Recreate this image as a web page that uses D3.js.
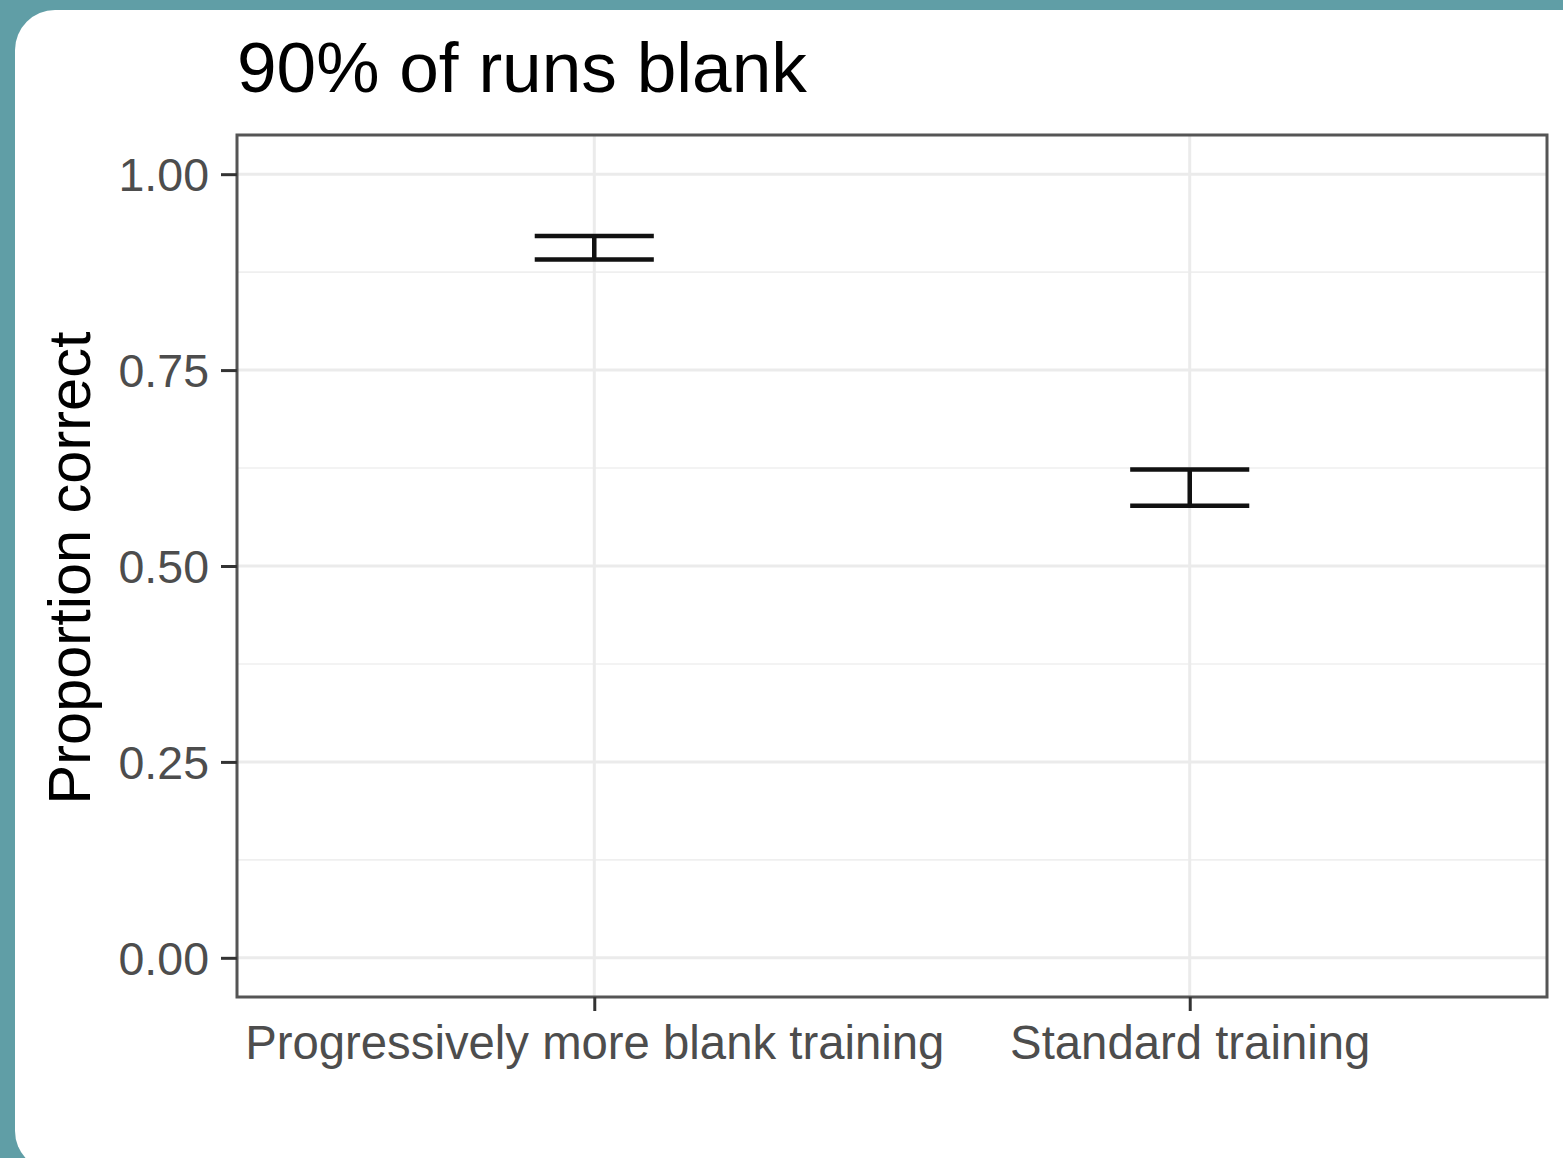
<!DOCTYPE html>
<html>
<head>
<meta charset="utf-8">
<script src="https://cdn.jsdelivr.net/npm/d3@7"></script>
<style>
  html, body { margin: 0; padding: 0; background: #609ea6; }
  svg { display: block; }
  text { font-family: "Liberation Sans", Arial, sans-serif; }
</style>
</head>
<body>
<script>
// Groups on the x axis
const categories = ["Progressively more blank training", "Standard training"];
// Error bar bounds for each group
const lowerValues = [0.891, 0.577];
const upperValues = [0.921, 0.623];
// Y axis ticks
const yTicks = [0, 0.25, 0.5, 0.75, 1.0];
const yTickLabels = ["0.00", "0.25", "0.50", "0.75", "1.00"];
const yMinorTicks = [0.125, 0.375, 0.625, 0.875];

const W = 1563, H = 1158;
const panel = { left: 237, top: 135, right: 1547, bottom: 997 };

const svg = d3.select("body").append("svg").attr("width", W).attr("height", H);

// teal frame with a white rounded card
svg.append("rect").attr("width", W).attr("height", H).attr("fill", "#609ea6");
svg.append("rect").attr("x", 15).attr("y", 10).attr("width", 1650).attr("height", 1161)
  .attr("rx", 40).attr("fill", "#ffffff");

const y = d3.scaleLinear().domain([-0.05, 1.05]).range([panel.bottom, panel.top]);
const xIdx = d3.scaleLinear().domain([0.4, categories.length + 0.6]).range([panel.left, panel.right]);
const x = d => xIdx(categories.indexOf(d) + 1);
const unit = xIdx(1) - xIdx(0);

const grid = svg.append("g");
grid.selectAll("line.minor").data(yMinorTicks).join("line")
  .attr("x1", panel.left).attr("x2", panel.right)
  .attr("y1", d => y(d)).attr("y2", d => y(d))
  .attr("stroke", "#efefef").attr("stroke-width", 1.6);
grid.selectAll("line.major").data(yTicks).join("line")
  .attr("x1", panel.left).attr("x2", panel.right)
  .attr("y1", d => y(d)).attr("y2", d => y(d))
  .attr("stroke", "#ebebeb").attr("stroke-width", 3);
grid.selectAll("line.vmajor").data(categories).join("line")
  .attr("x1", d => x(d)).attr("x2", d => x(d))
  .attr("y1", panel.top).attr("y2", panel.bottom)
  .attr("stroke", "#ebebeb").attr("stroke-width", 3);

// error bars
const bars = svg.append("g").attr("stroke", "#111").attr("stroke-width", 4.5).attr("fill", "none");
const halfW = 0.1 * unit;
categories.forEach((c, i) => {
  const cx = x(c);
  bars.append("line").attr("x1", cx).attr("x2", cx).attr("y1", y(lowerValues[i])).attr("y2", y(upperValues[i]));
  bars.append("line").attr("x1", cx - halfW).attr("x2", cx + halfW).attr("y1", y(lowerValues[i])).attr("y2", y(lowerValues[i]));
  bars.append("line").attr("x1", cx - halfW).attr("x2", cx + halfW).attr("y1", y(upperValues[i])).attr("y2", y(upperValues[i]));
});

// panel border
svg.append("rect")
  .attr("x", panel.left).attr("y", panel.top)
  .attr("width", panel.right - panel.left).attr("height", panel.bottom - panel.top)
  .attr("fill", "none").attr("stroke", "#555").attr("stroke-width", 3);

// y axis
const yAxis = d3.axisLeft(y).tickValues(yTicks).tickSize(16).tickPadding(12)
  .tickFormat((d, i) => yTickLabels[i]);
const gy = svg.append("g").attr("transform", `translate(${panel.left},0)`).call(yAxis);
gy.select(".domain").remove();
gy.selectAll(".tick line").attr("stroke", "#333").attr("stroke-width", 3);
gy.selectAll(".tick text").attr("fill", "#4d4d4d").attr("font-size", 46.5).attr("dy", "0.36em");

// x axis
const xBand = d3.scalePoint().domain(categories).range([x(categories[0]), x(categories[1])]);
const xAxis = d3.axisBottom(xBand).tickSize(14).tickPadding(14);
const gx = svg.append("g").attr("transform", `translate(0,${panel.bottom})`).call(xAxis);
gx.select(".domain").remove();
gx.selectAll(".tick line").attr("stroke", "#333").attr("stroke-width", 3);
gx.selectAll(".tick text").attr("fill", "#4d4d4d").attr("font-size", 47.3).attr("dy", "0.71em");

// titles
svg.append("text").attr("x", panel.left).attr("y", 92)
  .attr("font-size", 71.2).attr("fill", "#000").text("90% of runs blank");

svg.append("text")
  .attr("transform", `translate(90,${(panel.top + panel.bottom) / 2 + 2}) rotate(-90)`)
  .attr("text-anchor", "middle").attr("font-size", 59.5).attr("fill", "#000")
  .text("Proportion correct");
</script>
</body>
</html>
